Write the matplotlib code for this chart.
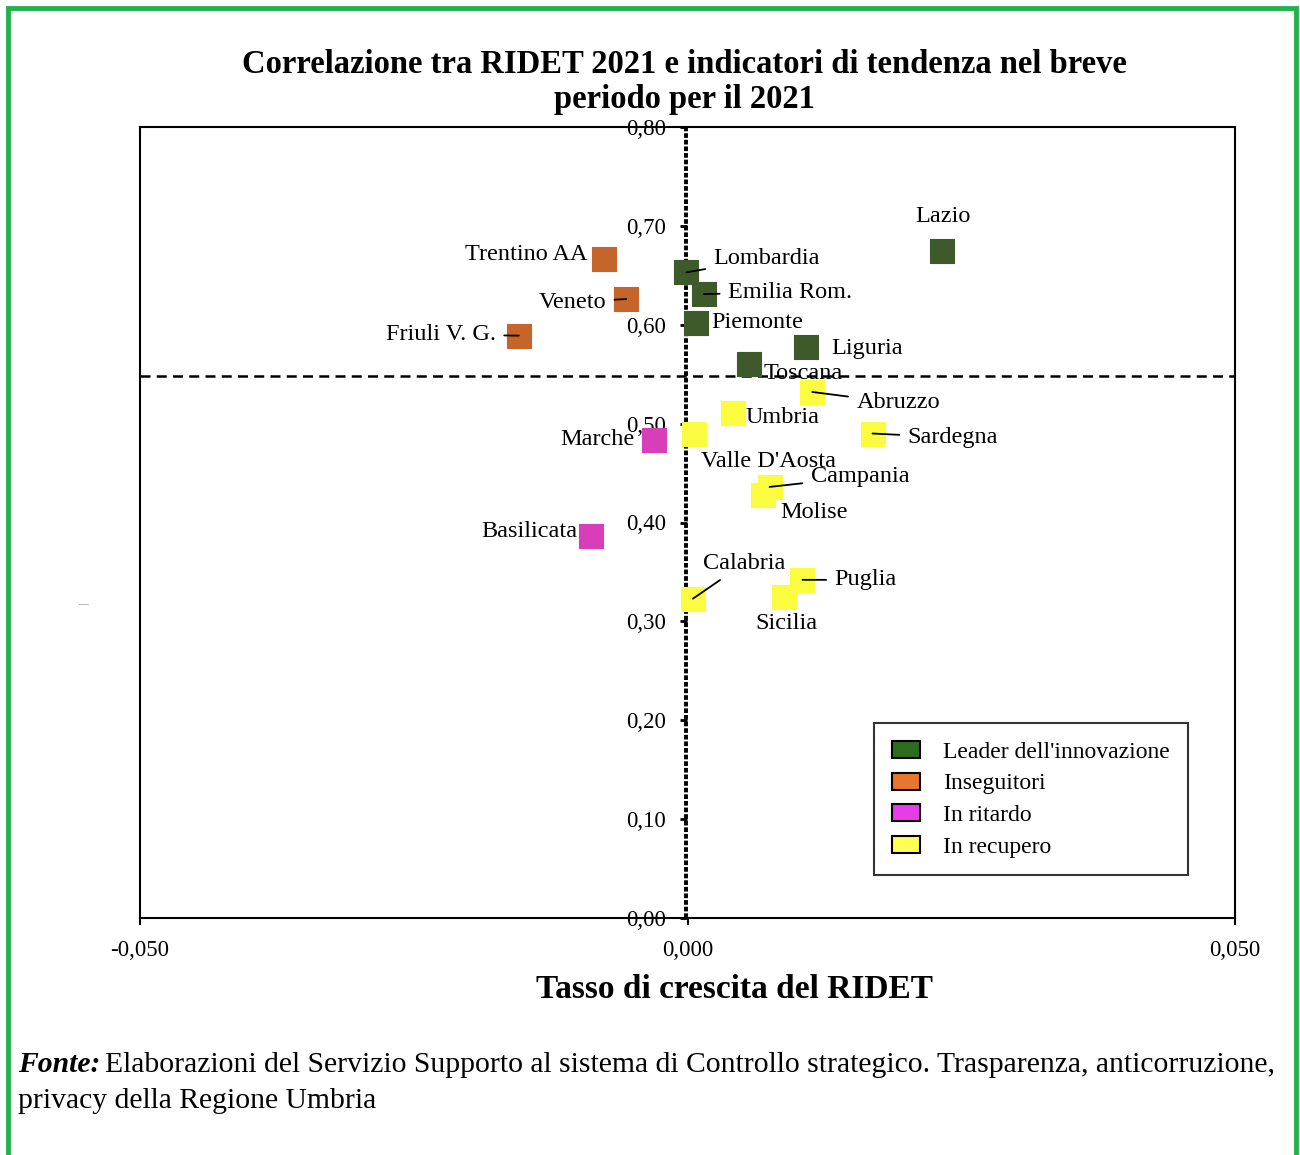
import matplotlib.pyplot as plt
from matplotlib.patches import Rectangle, Patch
from matplotlib.ticker import FuncFormatter

plt.rcParams["font.family"] = ["Liberation Serif", "DejaVu Serif"]

# dati
regioni = ["Lazio", "Trentino AA", "Lombardia", "Emilia Rom.", "Veneto", "Friuli V. G.",
           "Piemonte", "Liguria", "Toscana", "Abruzzo", "Umbria", "Valle D'Aosta",
           "Marche", "Sardegna", "Campania", "Molise", "Basilicata", "Calabria",
           "Puglia", "Sicilia"]
crescita = [0.0232, -0.0076, -0.0001, 0.0015, -0.0056, -0.0154,
            0.0008, 0.0108, 0.0056, 0.0114, 0.0042, 0.0006,
            -0.0031, 0.0169, 0.0075, 0.0069, -0.0088, 0.0005,
            0.0105, 0.0088]
ridet = [0.675, 0.666, 0.653, 0.631, 0.626, 0.589,
         0.602, 0.578, 0.560, 0.532, 0.511, 0.490,
         0.483, 0.490, 0.436, 0.428, 0.386, 0.323,
         0.342, 0.325]
gruppo = ["L", "I", "L", "L", "I", "I",
          "L", "L", "L", "C", "C", "C",
          "R", "C", "C", "C", "R", "C",
          "C", "C"]
soglia_ridet = 0.548

gruppi = ["L", "I", "R", "C"]
nomi_gruppi = ["Leader dell'innovazione", "Inseguitori", "In ritardo", "In recupero"]
col_punti = {"L": "#3e5a2b", "I": "#c5652c", "R": "#d83dba", "C": "#fbfb3f"}
col_legenda = {"L": "#2d6b1f", "I": "#e8762f", "R": "#e83ce8", "C": "#ffff55"}

# posizione etichette (offset in pixel) e linea di richiamo
etichette = {
    "Lazio": (1, 34, "center", False),
    "Trentino AA": (-17, 5, "right", False),
    "Lombardia": (27, 14, "left", True),
    "Emilia Rom.": (24, 2, "left", True),
    "Veneto": (-20, -3, "right", True),
    "Friuli V. G.": (-23, 1, "right", True),
    "Piemonte": (15, 0, "left", False),
    "Liguria": (26, -2, "left", False),
    "Toscana": (15, -9, "left", False),
    "Abruzzo": (44, -11, "left", True),
    "Umbria": (12, -5, "left", False),
    "Valle D'Aosta": (7, -28, "left", False),
    "Marche": (-19, 1, "right", False),
    "Sardegna": (35, -4, "left", True),
    "Campania": (41, 10, "left", True),
    "Molise": (17, -18, "left", False),
    "Basilicata": (-14, 5, "right", False),
    "Calabria": (51, 35, "center", True),
    "Puglia": (32, 0, "left", True),
    "Sicilia": (3, -27, "center", False),
}

fig = plt.figure(figsize=(13, 11.55), dpi=100)
ax = fig.add_axes([140 / 1300, 1 - 918 / 1155, 1095 / 1300, 791 / 1155])

for g in gruppi:
    xs = [x for x, gg in zip(crescita, gruppo) if gg == g]
    ys = [y for y, gg in zip(ridet, gruppo) if gg == g]
    ax.scatter(xs, ys, s=290, marker="s", c=col_punti[g], edgecolors=col_punti[g],
               linewidths=0.8, zorder=3)

for nome, x, y in zip(regioni, crescita, ridet):
    dx, dy, ha, linea = etichette[nome]
    props = None
    if linea:
        props = dict(arrowstyle="-", color="black", lw=1.3, shrinkA=4, shrinkB=0)
    ax.annotate(nome, (x, y), xytext=(dx, dy), textcoords="offset pixels",
                ha=ha, va="center", fontsize=17.5, arrowprops=props, zorder=4)

# linee di riferimento
ax.axhline(soglia_ridet, color="black", lw=1.8, ls=(0, (4, 2.5)), zorder=2)
ax.axvline(-0.0001, color="black", lw=2.8, ls=(0, (1.2, 0.5)), zorder=2)

ax.set_xlim(-0.05, 0.05)
ax.set_ylim(0, 0.8)
ax.set_xticks([-0.05, 0, 0.05])
ax.xaxis.set_major_formatter(FuncFormatter(lambda v, p: f"{v:.3f}".replace(".", ",")))
ax.tick_params(axis="x", direction="out", length=5, width=1.5, labelsize=16.5, pad=11)
ax.set_yticks([])
for s in ax.spines.values():
    s.set_linewidth(1.5)

# asse y al centro (x = 0)
sec = ax.secondary_yaxis(0.5 - 1e-9)
sec.set_yticks([i / 10 for i in range(9)])
sec.yaxis.set_major_formatter(FuncFormatter(lambda v, p: f"{v:.2f}".replace(".", ",")))
sec.yaxis.set_ticks_position("left")
sec.tick_params(axis="y", direction="out", length=5, width=2, labelsize=16.5, pad=10.5)
for lato in ("left", "right", "top", "bottom"):
    sec.spines[lato].set_visible(False)

fig.text(734 / 1300, 1 - 990 / 1155, "Tasso di crescita del RIDET", ha="center",
         va="center", fontsize=24, fontweight="bold")

maniglie = [Patch(facecolor=col_legenda[g], edgecolor="black", lw=1.5) for g in gruppi]
leg = ax.legend(maniglie, nomi_gruppi, loc="lower right", bbox_to_anchor=(0.957, 0.054),
                borderaxespad=0, fontsize=17, frameon=True, fancybox=False,
                edgecolor="black", handlelength=1.2, handleheight=0.72,
                handletextpad=1.0, labelspacing=0.42, borderpad=0.75)
leg.get_frame().set_linewidth(1.5)

fig.text(684 / 1300, 1 - 82 / 1155,
         "Correlazione tra RIDET 2021 e indicatori di tendenza nel breve\nperiodo per il 2021",
         ha="center", va="center", fontsize=23.5, fontweight="bold", linespacing=1.15)

fig.text(83 / 1300, 1 - 605 / 1155, "—", ha="center", va="center", fontsize=7, color="0.5")

fonte = fig.text(18 / 1300, 1 - 1072 / 1155, "Fonte:", ha="left", va="baseline",
                 fontsize=21.3, fontweight="bold", fontstyle="italic")
ax.annotate("Elaborazioni del Servizio Supporto al sistema di Controllo strategico. "
            "Trasparenza, anticorruzione,",
            xy=(1, 0), xycoords=fonte, xytext=(5, 0), textcoords="offset pixels",
            ha="left", va="bottom", fontsize=21.3, annotation_clip=False)
fig.text(18 / 1300, 1 - 1108 / 1155, "privacy della Regione Umbria",
         ha="left", va="baseline", fontsize=21.3)

# cornice verde
fig.patches.append(Rectangle((8 / 1300, -0.05), 1288 / 1300, 1.05 - 8 / 1155,
                             transform=fig.transFigure, fill=False,
                             edgecolor="#22b24c", lw=3.5))

fig.savefig("out.png", dpi=100, facecolor="white")
